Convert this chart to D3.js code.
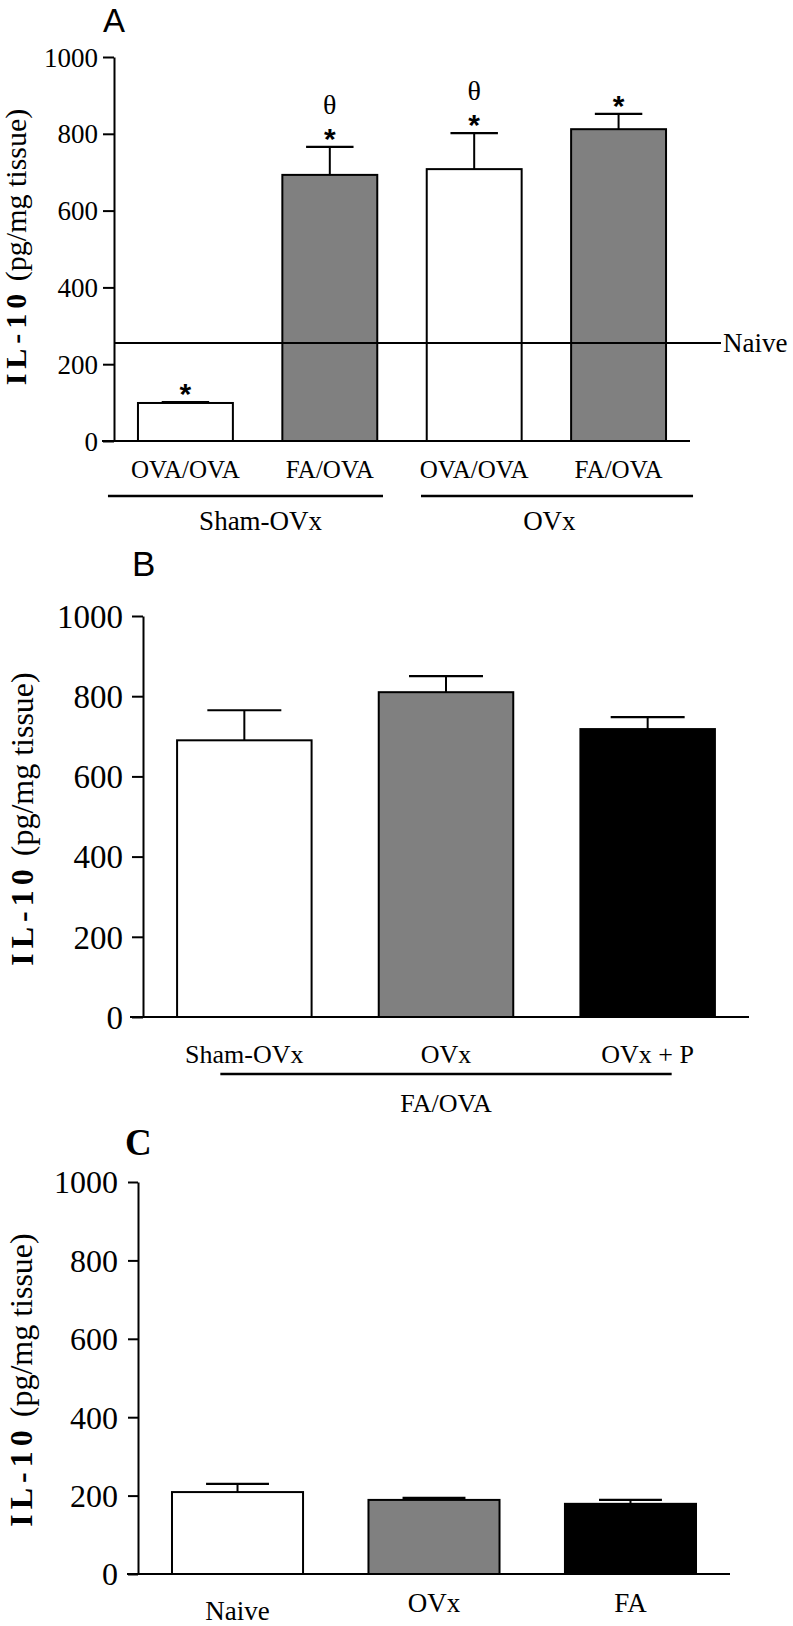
<!DOCTYPE html>
<html><head><meta charset="utf-8">
<script src="https://cdnjs.cloudflare.com/ajax/libs/d3/7.8.5/d3.min.js"></script>
<style>body{margin:0;background:#fff} svg{display:block}</style>
</head><body>
<svg id="chart" width="793" height="1626"></svg>
<script>
// ---------- data ----------
const yTicks = [0, 200, 400, 600, 800, 1000];
const yTitleBold = "IL-10";
const yTitleRest = " (pg/mg tissue)";

// Panel A
const catsA = ["OVA/OVA", "FA/OVA", "OVA/OVA", "FA/OVA"];
const valsA = [99, 693, 708, 812];
const errA = [2, 73, 94, 40];
const fillA = ["#ffffff", "#808080", "#ffffff", "#808080"];
const marksA = [["*"], ["*", "θ"], ["*", "θ"], ["*"]];
const groupsA = [{label: "Sham-OVx", from: 0, to: 1}, {label: "OVx", from: 2, to: 3}];
const naiveA = 255;
const naiveLabel = "Naive";

// Panel B
const catsB = ["Sham-OVx", "OVx", "OVx + P"];
const valsB = [690, 810, 718];
const errB = [75, 40, 30];
const fillB = ["#ffffff", "#808080", "#000000"];
const groupsB = [{label: "FA/OVA", from: 0, to: 2}];

// Panel C
const catsC = ["Naive", "OVx", "FA"];
const valsC = [209, 189, 179];
const errC = [21, 5, 10];
const fillC = ["#ffffff", "#808080", "#000000"];

// ---------- drawing ----------
const svg = d3.select("#chart");
const SERIF = "'Liberation Serif','Times New Roman',Times,serif";
const SANS = "'Liberation Sans',Arial,Helvetica,sans-serif";

function panel(cfg) {
  const g = svg.append("g");
  const n = cfg.cats.length;
  const y = d3.scaleLinear().domain([0, 1000]).range([cfg.y0, cfg.yTop]);
  const x = d3.scaleBand().domain(d3.range(n)).range([cfg.axisX, cfg.axisEnd])
    .paddingInner(cfg.pi).paddingOuter(cfg.po);
  const bw = x.bandwidth();

  // bars
  g.selectAll("rect.bar").data(cfg.vals).join("rect").attr("class", "bar")
    .attr("x", (d, i) => x(i)).attr("y", d => y(d))
    .attr("width", bw).attr("height", d => y(0) - y(d))
    .attr("fill", (d, i) => cfg.fills[i]).attr("stroke", "#000").attr("stroke-width", 2);

  // error bars (upper only)
  cfg.vals.forEach((v, i) => {
    const cx = x(i) + bw / 2, e = cfg.errs[i];
    g.append("line").attr("x1", cx).attr("x2", cx).attr("y1", y(v)).attr("y2", y(v + e))
      .attr("stroke", "#000").attr("stroke-width", 2);
    g.append("line").attr("x1", cx - bw * cfg.cap / 2).attr("x2", cx + bw * cfg.cap / 2)
      .attr("y1", y(v + e)).attr("y2", y(v + e)).attr("stroke", "#000").attr("stroke-width", 2.2);
  });

  // y axis
  const ax = g.append("g").attr("transform", `translate(${cfg.axisX},0)`)
    .call(d3.axisLeft(y).tickValues(yTicks).tickSize(cfg.tickLen).tickSizeOuter(0)
      .tickPadding(cfg.tickPad).tickFormat(d3.format("d")));
  ax.select(".domain").attr("stroke", "#000").attr("stroke-width", 2);
  ax.selectAll(".tick line").attr("stroke", "#000").attr("stroke-width", 2);
  ax.selectAll(".tick text").attr("fill", "#000").style("font-family", SERIF)
    .style("font-size", cfg.tickFont + "px").attr("dy", "0.34em");

  // x axis baseline
  g.append("line").attr("x1", cfg.xStart).attr("x2", cfg.axisEnd)
    .attr("y1", y(0)).attr("y2", y(0)).attr("stroke", "#000").attr("stroke-width", 2);

  // category labels
  g.selectAll("text.cat").data(cfg.cats).join("text").attr("class", "cat")
    .attr("x", (d, i) => x(i) + bw / 2)
    .attr("y", (d, i) => cfg.catY + (cfg.catDy ? cfg.catDy[i] : 0))
    .attr("text-anchor", "middle").style("font-family", SERIF)
    .style("font-size", cfg.catFont + "px").text(d => d);

  // groups
  (cfg.groups || []).forEach((gr, gi) => {
    const l = cfg.groupLine(x, bw, gr, gi);
    g.append("line").attr("x1", l[0]).attr("x2", l[1]).attr("y1", cfg.groupLineY).attr("y2", cfg.groupLineY)
      .attr("stroke", "#000").attr("stroke-width", 2.5);
    g.append("text").attr("x", (x(gr.from) + x(gr.to) + bw) / 2 + (cfg.groupDx || 0)).attr("y", cfg.groupY)
      .attr("text-anchor", "middle").style("font-family", SERIF)
      .style("font-size", cfg.groupFont + "px").text(gr.label);
  });

  // y title
  const t = g.append("text")
    .attr("transform", `translate(${cfg.titleX},${cfg.titleY}) rotate(-90)`)
    .attr("text-anchor", "middle").style("font-family", SERIF)
    .style("font-size", cfg.titleFont + "px");
  t.append("tspan").style("font-weight", "bold").attr("letter-spacing", cfg.titleSpacing).text(yTitleBold);
  t.append("tspan").text(yTitleRest);

  // panel letter
  g.append("text").attr("x", cfg.letterX).attr("y", cfg.letterY)
    .style("font-family", cfg.letterFamily).style("font-weight", cfg.letterWeight)
    .style("font-size", cfg.letterSize + "px").text(cfg.letter);

  return {g, x, y, bw};
}

// Panel A
const pA = panel({
  cats: catsA, vals: valsA, errs: errA, fills: fillA,
  y0: 441, yTop: 57, axisX: 114, axisEnd: 690, xStart: 102, pi: 0.3426, po: 0.166, cap: 0.5,
  tickLen: 11, tickPad: 5, tickFont: 27,
  catY: 478, catFont: 25,
  groups: groupsA, groupLineY: 496, groupY: 530, groupFont: 27, groupDx: 3,
  groupLine: (x, bw, gr, gi) => {
    const mid = (x(1) + bw + x(2)) / 2;
    return gi === 0 ? [x(gr.from) - 30, mid - 19] : [mid + 19, x(gr.to) + bw + 27];
  },
  titleX: 26, titleY: 247, titleFont: 30, titleSpacing: 5,
  letter: "A", letterX: 103, letterY: 32, letterFamily: SANS, letterWeight: "normal", letterSize: 33
});
// significance marks
valsA.forEach((v, i) => {
  const cx = pA.x(i) + pA.bw / 2;
  const top = pA.y(v + errA[i]);
  marksA[i].forEach(m => {
    if (m === "*") {
      pA.g.append("text").attr("x", cx).attr("y", top + 2).attr("text-anchor", "middle")
        .style("font-family", SANS).style("font-weight", "bold").style("font-size", "30px").text(m);
    } else {
      pA.g.append("text").attr("x", cx).attr("y", top - 33).attr("text-anchor", "middle")
        .style("font-family", SERIF).style("font-size", "28px").text(m);
    }
  });
});
// naive reference line
pA.g.append("line").attr("x1", 114).attr("x2", 721).attr("y1", pA.y(naiveA)).attr("y2", pA.y(naiveA))
  .attr("stroke", "#000").attr("stroke-width", 2);
pA.g.append("text").attr("x", 723).attr("y", pA.y(naiveA) + 9).style("font-family", SERIF)
  .style("font-size", "27px").text(naiveLabel);

// Panel B
panel({
  cats: catsB, vals: valsB, errs: errB, fills: fillB,
  y0: 1017, yTop: 616, axisX: 143, axisEnd: 749, xStart: 130, pi: 0.333, po: 0.169, cap: 0.55,
  tickLen: 11, tickPad: 9, tickFont: 33,
  catY: 1063, catFont: 26,
  groups: groupsB, groupLineY: 1074, groupY: 1112, groupFont: 26,
  groupLine: (x, bw, gr) => [x(gr.from) + bw / 2 - 24, x(gr.to) + bw / 2 + 24],
  titleX: 33, titleY: 819, titleFont: 32, titleSpacing: 5,
  letter: "B", letterX: 132, letterY: 576, letterFamily: SANS, letterWeight: "normal", letterSize: 35
});

// Panel C
panel({
  cats: catsC, vals: valsC, errs: errC, fills: fillC,
  y0: 1574, yTop: 1182, axisX: 138, axisEnd: 730, xStart: 127, pi: 0.333, po: 0.173, cap: 0.48,
  tickLen: 10, tickPad: 10, tickFont: 32,
  catY: 1612, catDy: [8, 0, 0], catFont: 27,
  groups: [],
  titleX: 32, titleY: 1380, titleFont: 32, titleSpacing: 5,
  letter: "C", letterX: 125, letterY: 1155, letterFamily: SERIF, letterWeight: "bold", letterSize: 37
});
</script>
</body></html>
